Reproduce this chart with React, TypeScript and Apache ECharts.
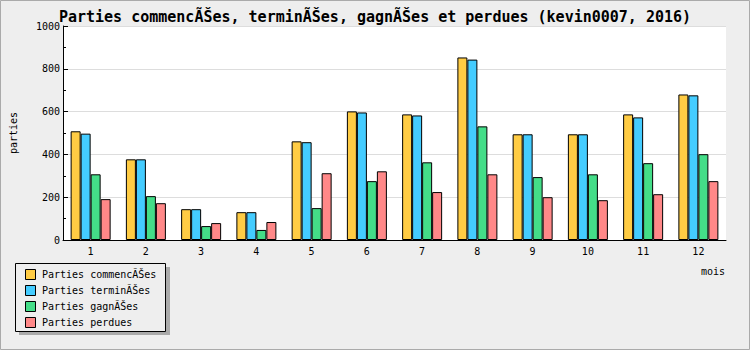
import React, { useEffect, useRef } from "react";
import * as echarts from "echarts";

const months = ["1", "2", "3", "4", "5", "6", "7", "8", "9", "10", "11", "12"];
const commencees = [508, 377, 144, 130, 461, 601, 587, 853, 494, 494, 587, 680];
const terminees = [497, 377, 144, 130, 457, 596, 582, 843, 494, 494, 573, 676];
const gagnees = [307, 205, 65, 47, 149, 275, 363, 531, 294, 307, 359, 401];
const perdues = [191, 172, 79, 84, 312, 321, 224, 307, 200, 186, 214, 275];
const seriesNames = [
  "Parties commencÃŠes",
  "Parties terminÃŠes",
  "Parties gagnÃŠes",
  "Parties perdues",
];
const colors = ["#ffcc44", "#44ccff", "#44dd88", "#ff8888"];

const FONT = "'DejaVu Sans Mono', monospace";

export default function App() {
  const ref = useRef<HTMLDivElement>(null);
  useEffect(() => {
    document.body.style.margin = "0";
    const chart = echarts.init(ref.current!, null, { renderer: "svg" });
    const data = [commencees, terminees, gagnees, perdues];
    chart.setOption({
      animation: false,
      backgroundColor: "#eeeeee",
      title: {
        text: "Parties commencÃŠes, terminÃŠes, gagnÃŠes et perdues (kevin0007, 2016)",
        left: "center",
        top: 4,
        textStyle: { fontFamily: FONT, fontSize: 15, fontWeight: "bold", color: "#000" },
      },
      grid: { left: 60, top: 26, width: 666, height: 214, backgroundColor: "#fff", show: true, borderWidth: 0 },
      xAxis: {
        type: "category",
        data: months,
        axisLine: { lineStyle: { color: "#000", width: 1 } },
        axisTick: { inside: true, length: 5, lineStyle: { color: "#000" } },
        axisLabel: { fontFamily: FONT, fontSize: 10, color: "#000", margin: 6 },
      },
      yAxis: {
        type: "value",
        min: 0,
        max: 1000,
        interval: 200,
        name: "parties",
        nameLocation: "middle",
        nameGap: 45,
        nameTextStyle: { fontFamily: FONT, fontSize: 10, color: "#000" },
        axisLine: { show: true, lineStyle: { color: "#000", width: 1 } },
        axisTick: { show: true, inside: true, length: 5, lineStyle: { color: "#000" } },
        minorTick: { show: true, splitNumber: 2, length: 3, lineStyle: { color: "#000" } },
        axisLabel: { fontFamily: FONT, fontSize: 10, color: "#000", margin: 3, formatter: (v: number) => String(v) },
        splitLine: { show: true, lineStyle: { color: "#dddddd", width: 1 } },
      },
      legend: { show: false, data: seriesNames },
      graphic: [
        { type: "rect", shape: { x: 0.5, y: 0.5, width: 749, height: 349 }, style: { fill: "none", stroke: "#aaaaaa", lineWidth: 1 }, z: 100 },
        { type: "rect", shape: { x: 19, y: 267, width: 151, height: 68 }, style: { fill: "#aaaaaa" }, z: 1 },
        { type: "rect", shape: { x: 15.5, y: 263.5, width: 150, height: 68 }, style: { fill: "#eeeeee", stroke: "#000", lineWidth: 1 }, z: 2 },
        ...seriesNames.flatMap((n, i) => [
          { type: "rect", shape: { x: 25.5, y: 269.5 + i * 16, width: 10, height: 10 }, style: { fill: colors[i], stroke: "#000", lineWidth: 1 }, z: 3 },
          { type: "text", x: 42, y: 274.5 + i * 16, style: { text: n, fontFamily: FONT, fontSize: 10, fill: "#000", verticalAlign: "middle" }, z: 3 },
        ]),
        { type: "text", right: 25, top: 266, style: { text: "mois", fontFamily: FONT, fontSize: 10, fill: "#000" }, z: 3 },
      ],
      series: data.map((d, i) => ({
        name: seriesNames[i],
        type: "bar",
        data: d,
        barWidth: 10,
        barGap: "0%",
        itemStyle: { color: colors[i], borderColor: "#000", borderWidth: 1 },
      })),
    });
    return () => chart.dispose();
  }, []);
  return <div ref={ref} style={{ width: 750, height: 350 }} />;
}
